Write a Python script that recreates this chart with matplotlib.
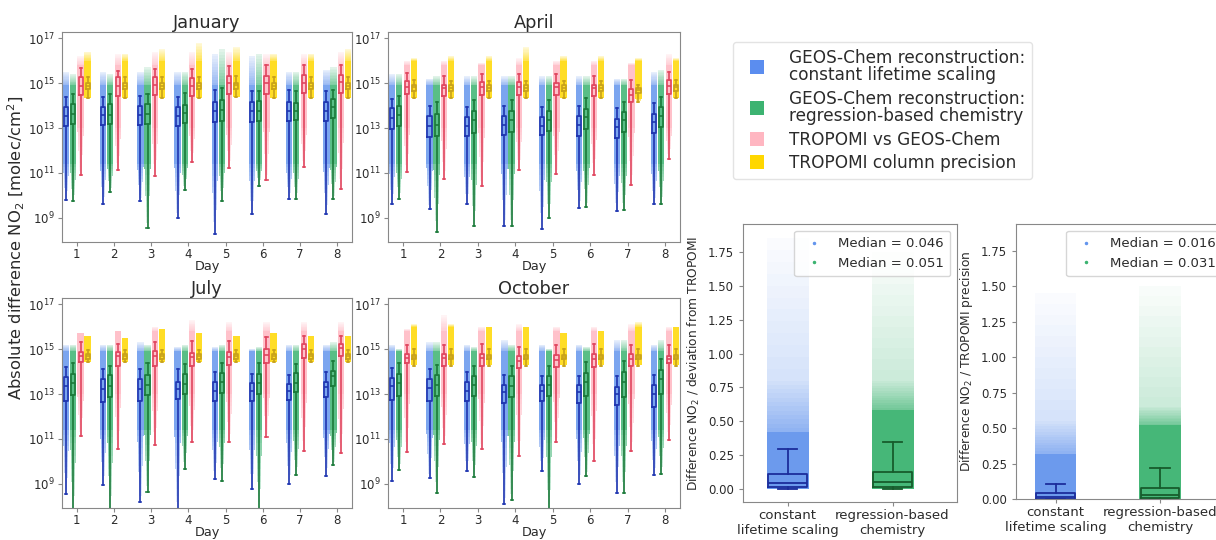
import numpy as np
import matplotlib.pyplot as plt
from matplotlib.lines import Line2D

days = np.arange(1, 9)
months = ["January", "April", "July", "October"]
series_labels = ["GEOS-Chem reconstruction:\nconstant lifetime scaling",
                 "GEOS-Chem reconstruction:\nregression-based chemistry",
                 "TROPOMI vs GEOS-Chem",
                 "TROPOMI column precision"]

# log10 of |difference| (molec/cm2), one list per day 1..8
# rows: whisker low, q1, median, q3, whisker high, top of scatter
jan_blue = [[9.81, 9.64, 9.77, 9.0, 8.3, 9.18, 9.84, 9.19],
            [13.07, 13.15, 13.15, 13.1, 13.25, 13.25, 13.3, 13.3],
            [13.52, 13.56, 13.6, 13.55, 13.77, 13.77, 13.77, 13.77],
            [13.93, 13.93, 13.99, 13.93, 14.14, 14.16, 14.14, 14.14],
            [14.38, 14.4, 14.44, 14.38, 14.67, 14.66, 14.7, 14.66],
            [15.5, 15.5, 15.5, 15.5, 16.3, 16.2, 15.5, 15.6]]
jan_green = [[9.74, 10.14, 8.56, 10.23, 9.77, 10.44, 9.84, 9.84],
             [13.18, 13.2, 13.2, 13.22, 13.3, 13.33, 13.34, 13.44],
             [13.62, 13.6, 13.62, 13.67, 13.81, 13.77, 13.74, 13.92],
             [14.07, 14.07, 14.08, 14.04, 14.26, 14.21, 14.11, 14.29],
             [14.53, 14.5, 14.5, 14.55, 14.78, 14.66, 14.63, 14.7],
             [15.4, 15.4, 15.7, 15.5, 16.5, 16.3, 15.5, 15.7]]
jan_pink = [[10.93, 11.12, 10.88, 11.49, 11.22, 10.7, 11.25, 10.29],
            [14.48, 14.44, 14.48, 14.44, 14.51, 14.51, 14.56, 14.56],
            [14.88, 14.88, 14.93, 14.88, 15.0, 15.0, 15.0, 15.03],
            [15.25, 15.25, 15.25, 15.22, 15.33, 15.33, 15.37, 15.37],
            [15.67, 15.55, 15.64, 15.62, 15.74, 15.81, 15.81, 15.81],
            [16.2, 16.3, 16.4, 16.4, 16.4, 16.3, 16.3, 16.4]]
jan_gold = [[14.35, 14.35, 14.33, 14.35, 14.38, 14.35, 14.35, 14.35],
            [14.73, 14.73, 14.73, 14.73, 14.75, 14.73, 14.73, 14.73],
            [14.88, 14.88, 14.88, 14.88, 14.9, 14.88, 14.88, 14.88],
            [15.0, 15.0, 15.0, 15.0, 15.02, 15.0, 15.0, 15.0],
            [15.27, 15.27, 15.27, 15.27, 15.3, 15.27, 15.27, 15.27],
            [16.4, 16.3, 16.5, 16.8, 16.6, 16.3, 16.3, 16.5]]

apr_blue = [[9.64, 9.4, 9.64, 8.66, 8.51, 9.44, 9.3, 9.6],
            [12.96, 12.59, 12.66, 12.7, 12.7, 12.66, 12.56, 12.78],
            [13.44, 13.07, 13.07, 13.15, 13.1, 13.15, 13.04, 13.25],
            [13.89, 13.52, 13.49, 13.52, 13.49, 13.55, 13.4, 13.62],
            [14.29, 13.99, 13.93, 13.96, 13.93, 13.96, 13.89, 14.11],
            [15.4, 15.2, 15.3, 15.3, 15.3, 15.3, 15.2, 15.5]]
apr_green = [[9.84, 8.36, 8.63, 8.66, 9.0, 9.49, 9.34, 9.62],
             [13.07, 12.63, 12.78, 12.81, 12.88, 12.96, 12.81, 13.04],
             [13.56, 13.15, 13.34, 13.34, 13.34, 13.49, 13.34, 13.55],
             [13.99, 13.62, 13.77, 13.77, 13.74, 13.84, 13.7, 13.93],
             [14.44, 14.14, 14.26, 14.23, 14.26, 14.33, 14.14, 14.38],
             [15.4, 15.3, 15.3, 15.3, 15.3, 15.3, 15.2, 15.6]]
apr_pink = [[11.04, 10.73, 10.41, 11.12, 10.96, 10.93, 10.48, 11.62],
            [14.51, 14.41, 14.48, 14.48, 14.48, 14.41, 14.14, 14.53],
            [14.82, 14.78, 14.82, 14.82, 14.82, 14.78, 14.48, 14.88],
            [15.07, 14.93, 15.03, 15.03, 15.0, 14.93, 14.73, 15.15],
            [15.44, 15.33, 15.41, 15.41, 15.41, 15.33, 15.15, 15.47],
            [16.0, 16.0, 15.9, 16.1, 16.0, 16.0, 15.9, 16.3]]
apr_gold = [[14.33, 14.33, 14.33, 14.33, 14.33, 14.33, 14.14, 14.33],
            [14.63, 14.63, 14.63, 14.63, 14.63, 14.63, 14.56, 14.63],
            [14.81, 14.76, 14.78, 14.78, 14.78, 14.78, 14.7, 14.81],
            [14.93, 14.9, 14.9, 14.9, 14.9, 14.9, 14.78, 14.93],
            [15.12, 15.1, 15.1, 15.1, 15.1, 15.1, 14.93, 15.12],
            [16.1, 16.2, 16.2, 16.6, 16.2, 16.2, 16.1, 16.1]]

jul_blue = [[8.56, 8.96, 8.21, 7.9, 9.22, 8.78, 9.0, 9.37],
            [12.7, 12.63, 12.7, 12.78, 12.7, 12.67, 12.73, 12.85],
            [13.37, 13.22, 13.22, 13.22, 13.15, 13.15, 13.15, 13.3],
            [13.77, 13.67, 13.67, 13.52, 13.52, 13.47, 13.44, 13.52],
            [14.19, 14.11, 14.11, 14.11, 13.96, 13.89, 13.84, 13.96],
            [15.2, 15.2, 15.3, 15.1, 15.1, 15.0, 15.2, 15.2]]
jul_green = [[7.9, 7.9, 8.66, 9.67, 9.15, 7.9, 9.4, 9.85],
             [12.96, 12.85, 12.96, 13.0, 13.04, 13.0, 13.1, 13.37],
             [13.47, 13.37, 13.41, 13.44, 13.52, 13.47, 13.49, 13.79],
             [13.89, 13.84, 13.84, 13.89, 13.92, 13.89, 13.92, 14.04],
             [14.36, 14.26, 14.36, 14.33, 14.38, 14.36, 14.33, 14.48],
             [15.2, 15.2, 15.2, 15.2, 15.2, 15.1, 15.2, 15.3]]
jul_pink = [[11.15, 10.56, 10.73, 10.88, 10.85, 11.07, 10.48, 10.36],
            [14.41, 14.26, 14.26, 14.26, 14.29, 14.38, 14.59, 14.67],
            [14.67, 14.67, 14.67, 14.63, 14.63, 14.73, 15.0, 15.03],
            [14.85, 14.85, 14.9, 14.82, 14.85, 15.0, 15.22, 15.22],
            [15.3, 15.22, 15.33, 15.37, 15.37, 15.52, 15.59, 15.59],
            [15.7, 15.8, 16.0, 16.3, 16.2, 16.2, 16.2, 16.2]]
jul_gold = [[14.41, 14.41, 14.41, 14.41, 14.41, 14.41, 14.41, 14.41],
            [14.56, 14.56, 14.56, 14.56, 14.56, 14.56, 14.56, 14.56],
            [14.67, 14.67, 14.67, 14.67, 14.67, 14.67, 14.67, 14.67],
            [14.78, 14.78, 14.78, 14.78, 14.78, 14.78, 14.78, 14.78],
            [14.96, 14.96, 14.96, 14.96, 14.96, 14.96, 14.96, 14.96],
            [15.6, 15.5, 15.9, 15.7, 15.6, 15.7, 15.6, 15.6]]

oct_blue = [[9.13, 9.28, 9.56, 8.12, 9.56, 9.01, 8.6, 9.38],
            [12.74, 12.71, 12.67, 12.59, 12.67, 12.59, 12.49, 12.44],
            [13.35, 13.26, 13.15, 13.08, 13.15, 13.08, 13.0, 13.0],
            [13.72, 13.67, 13.52, 13.42, 13.42, 13.38, 13.33, 13.38],
            [14.16, 14.12, 13.97, 13.86, 13.82, 13.78, 13.78, 13.86],
            [15.2, 15.3, 15.2, 15.4, 15.2, 15.2, 15.4, 15.2]]
oct_green = [[9.6, 8.6, 9.31, 8.27, 7.83, 9.34, 8.6, 9.43],
             [12.89, 12.89, 12.93, 12.86, 12.93, 12.93, 12.86, 13.0],
             [13.48, 13.42, 13.42, 13.35, 13.42, 13.52, 13.52, 13.67],
             [13.89, 13.86, 13.78, 13.78, 13.82, 13.92, 13.97, 14.07],
             [14.37, 14.31, 14.26, 14.26, 14.26, 14.41, 14.46, 14.56],
             [15.0, 15.3, 15.1, 15.2, 15.0, 15.1, 15.4, 15.4]]
oct_pink = [[10.42, 10.76, 10.57, 10.24, 10.86, 10.02, 10.46, 10.96],
            [14.37, 14.26, 14.26, 14.16, 14.19, 14.19, 14.26, 14.37],
            [14.6, 14.6, 14.6, 14.49, 14.51, 14.56, 14.56, 14.56],
            [14.78, 14.78, 14.78, 14.71, 14.75, 14.78, 14.78, 14.71],
            [15.2, 15.2, 15.22, 15.11, 15.2, 15.22, 15.2, 15.2],
            [15.9, 16.5, 16.0, 16.1, 16.0, 16.0, 16.1, 16.0]]
oct_gold = [[14.26, 14.26, 14.26, 14.26, 14.26, 14.26, 14.26, 14.26],
            [14.56, 14.56, 14.56, 14.56, 14.56, 14.56, 14.56, 14.56],
            [14.66, 14.66, 14.66, 14.66, 14.66, 14.66, 14.66, 14.66],
            [14.72, 14.72, 14.72, 14.72, 14.72, 14.72, 14.72, 14.72],
            [15.0, 15.0, 15.0, 15.0, 15.0, 15.0, 15.0, 15.0],
            [16.1, 16.1, 16.0, 16.0, 15.7, 15.8, 16.2, 16.0]]

# ratio panels: box = whisker low, q1, median, q3, whisker high
# cloud = top of dense part, top of medium part, top of sparse part
ratio_cats = ["constant\nlifetime scaling", "regression-based\nchemistry"]
trop_box = [[0.0, 0.015, 0.046, 0.11, 0.294], [0.0, 0.015, 0.051, 0.127, 0.345]]
trop_cloud = [[0.42, 0.80, 1.85], [0.58, 0.80, 1.75]]
trop_median = [0.046, 0.051]
prec_box = [[0.0, 0.003, 0.016, 0.042, 0.108], [0.0, 0.005, 0.031, 0.08, 0.22]]
prec_cloud = [[0.32, 0.55, 1.45], [0.52, 0.65, 1.5]]
prec_median = [0.016, 0.031]

fill = ["#6495ed", "#3cb371", "#ffb6c1", "#ffd700"]
edge = ["#1f35b0", "#1b7a3a", "#e0455e", "#c8a21a"]
offsets = [-0.29, -0.1, 0.1, 0.29]
dense = [(11.4, 14.9), (11.4, 14.9), (13.0, 15.8), (14.3, 16.0)]
grey = "#888888"
txt = "#2b2b2b"

plt.rcParams["axes.edgecolor"] = grey
plt.rcParams["xtick.color"] = grey
plt.rcParams["ytick.color"] = grey
plt.rcParams["xtick.labelcolor"] = txt
plt.rcParams["ytick.labelcolor"] = txt
plt.rcParams["text.color"] = txt
plt.rcParams["axes.labelcolor"] = txt

fig = plt.figure(figsize=(12.16, 5.4), dpi=100)
W, H = 1216.0, 540.0
NS = 12  # slices used to fade the tails of each point cloud


def add_ax(l, t, r, b):
    return fig.add_axes([l / W, 1 - b / H, (r - l) / W, (b - t) / H])


def cloud(ax, pos, lo, top, k, w=0.17):
    # lo / top are log10 values, one per day
    dlo = np.minimum(np.maximum(dense[k][0], lo), top)
    dhi = np.minimum(np.maximum(dense[k][1], lo), top)
    ax.bar(pos, 10 ** dhi - 10 ** dlo, bottom=10 ** dlo, width=w,
           color=fill[k], alpha=0.85, lw=0)
    for i in range(NS):
        f0, f1 = i / NS, (i + 1) / NS
        y0, y1 = lo + (dlo - lo) * f0, lo + (dlo - lo) * f1
        ax.bar(pos, 10 ** y1 - 10 ** y0, bottom=10 ** y0, width=0.04 + (w - 0.04) * f1,
               color=fill[k], alpha=0.1 + 0.6 * f1, lw=0)
        y0, y1 = dhi + (top - dhi) * f0, dhi + (top - dhi) * f1
        ax.bar(pos, 10 ** y1 - 10 ** y0, bottom=10 ** y0, width=w,
               color=fill[k], alpha=0.7 - 0.55 * f1, lw=0)


def month_panel(ax, title, data):
    ax.set_yscale("log")
    for k, rows in enumerate(data):
        lo, q1, med, q3, hi, top = [np.array(r) for r in rows]
        pos = days + offsets[k]
        cloud(ax, pos, lo, top, k)
        stats = [dict(whislo=10 ** a, q1=10 ** b, med=10 ** c, q3=10 ** d, whishi=10 ** e)
                 for a, b, c, d, e in zip(lo, q1, med, q3, hi)]
        lp = dict(color=edge[k], lw=1.2)
        ax.bxp(stats, positions=pos, widths=0.11, showfliers=False, manage_ticks=False,
               boxprops=lp, whiskerprops=lp, capprops=lp, medianprops=lp)
    ax.set_xlim(0.6, 8.4)
    ax.set_ylim(10 ** 7.93, 10 ** 17.27)
    ax.set_yticks([1e9, 1e11, 1e13, 1e15, 1e17])
    ax.yaxis.set_minor_locator(plt.NullLocator())
    ax.set_xticks(days)
    ax.tick_params(labelsize=8.5, length=3, pad=2)
    ax.tick_params(axis="x", pad=1.5)
    ax.set_xlabel("Day", fontsize=9.3, labelpad=-1)
    ax.set_title(title, fontsize=12.8, pad=3)


panel_boxes = [(62, 32, 352, 242), (388, 32, 680, 242), (62, 298, 352, 508), (388, 298, 680, 508)]
month_data = [[jan_blue, jan_green, jan_pink, jan_gold],
              [apr_blue, apr_green, apr_pink, apr_gold],
              [jul_blue, jul_green, jul_pink, jul_gold],
              [oct_blue, oct_green, oct_pink, oct_gold]]
for box, name, data in zip(panel_boxes, months, month_data):
    month_panel(add_ax(*box), name, data)

fig.text(16 / W, 1 - 248 / H, "Absolute difference NO$_2$ [molec/cm$^2$]",
         rotation=90, ha="center", va="center", fontsize=11.8)

handles = [Line2D([], [], ls="none", marker="s", ms=9.5, mew=0, color=c)
           for c in ["#5b8def", "#3cb371", "#ffb6c1", "#ffd700"]]
leg = fig.legend(handles, series_labels, loc="upper left", bbox_to_anchor=(733 / W, 1 - 42 / H),
                 fontsize=12.2, handlelength=2.0, labelspacing=0.33,
                 borderpad=0.4, handletextpad=0.9, borderaxespad=0, edgecolor="#dddddd")
for t in leg.get_texts():
    t.set_linespacing(0.95)

box_edge = ["#1c2d9c", "#175c2c"]


def ratio_panel(ax, boxes, clouds, medians, ylim, xlim, ylabel):
    for k in range(2):
        pos = k + 1
        d, m, s = clouds[k]
        ax.bar(pos, d, bottom=0, width=0.4, color=fill[k], alpha=0.95, lw=0)
        for i in range(NS):
            f0, f1 = i / NS, (i + 1) / NS
            ax.bar(pos, (m - d) / NS, bottom=d + (m - d) * f0, width=0.4, color=fill[k],
                   alpha=0.75 - 0.45 * f1, lw=0)
            ax.bar(pos, (s - m) / NS, bottom=m + (s - m) * f0, width=0.4, color=fill[k],
                   alpha=0.28 - 0.25 * f1, lw=0)
        a, b, c, e, f = boxes[k]
        lp = dict(color=box_edge[k], lw=1.3)
        ax.bxp([dict(whislo=a, q1=b, med=c, q3=e, whishi=f)], positions=[pos], widths=0.37,
               showfliers=False, manage_ticks=False,
               boxprops=lp, whiskerprops=lp, capprops=lp, medianprops=lp)
    ax.set_xlim(*xlim)
    ax.set_ylim(*ylim)
    ax.set_xticks([1, 2])
    ax.set_xticklabels(ratio_cats, fontsize=9.5)
    ax.set_yticks([0, 0.25, 0.5, 0.75, 1.0, 1.25, 1.5, 1.75])
    ax.tick_params(axis="y", labelsize=8.5, length=3)
    ax.tick_params(axis="x", length=3, pad=2)
    ax.set_ylabel(ylabel, fontsize=8.8)
    h = [Line2D([], [], ls="none", marker=".", ms=3, color=fill[k]) for k in range(2)]
    ax.legend(h, ["Median = %.3f" % v for v in medians], loc="upper right",
              fontsize=9.5, handletextpad=0.8, borderpad=0.5)


ax_a = add_ax(743, 224, 957, 502)
ratio_panel(ax_a, trop_box, trop_cloud, trop_median, (-0.096, 1.956), (0.576, 2.614),
            "Difference NO$_2$ / deviation from TROPOMI")
ax_b = add_ax(1016, 224, 1229, 499)
ratio_panel(ax_b, prec_box, prec_cloud, prec_median, (0, 1.94), (0.622, 2.66),
            "Difference NO$_2$ / TROPOMI precision")

fig.savefig("out.png", dpi=100)
